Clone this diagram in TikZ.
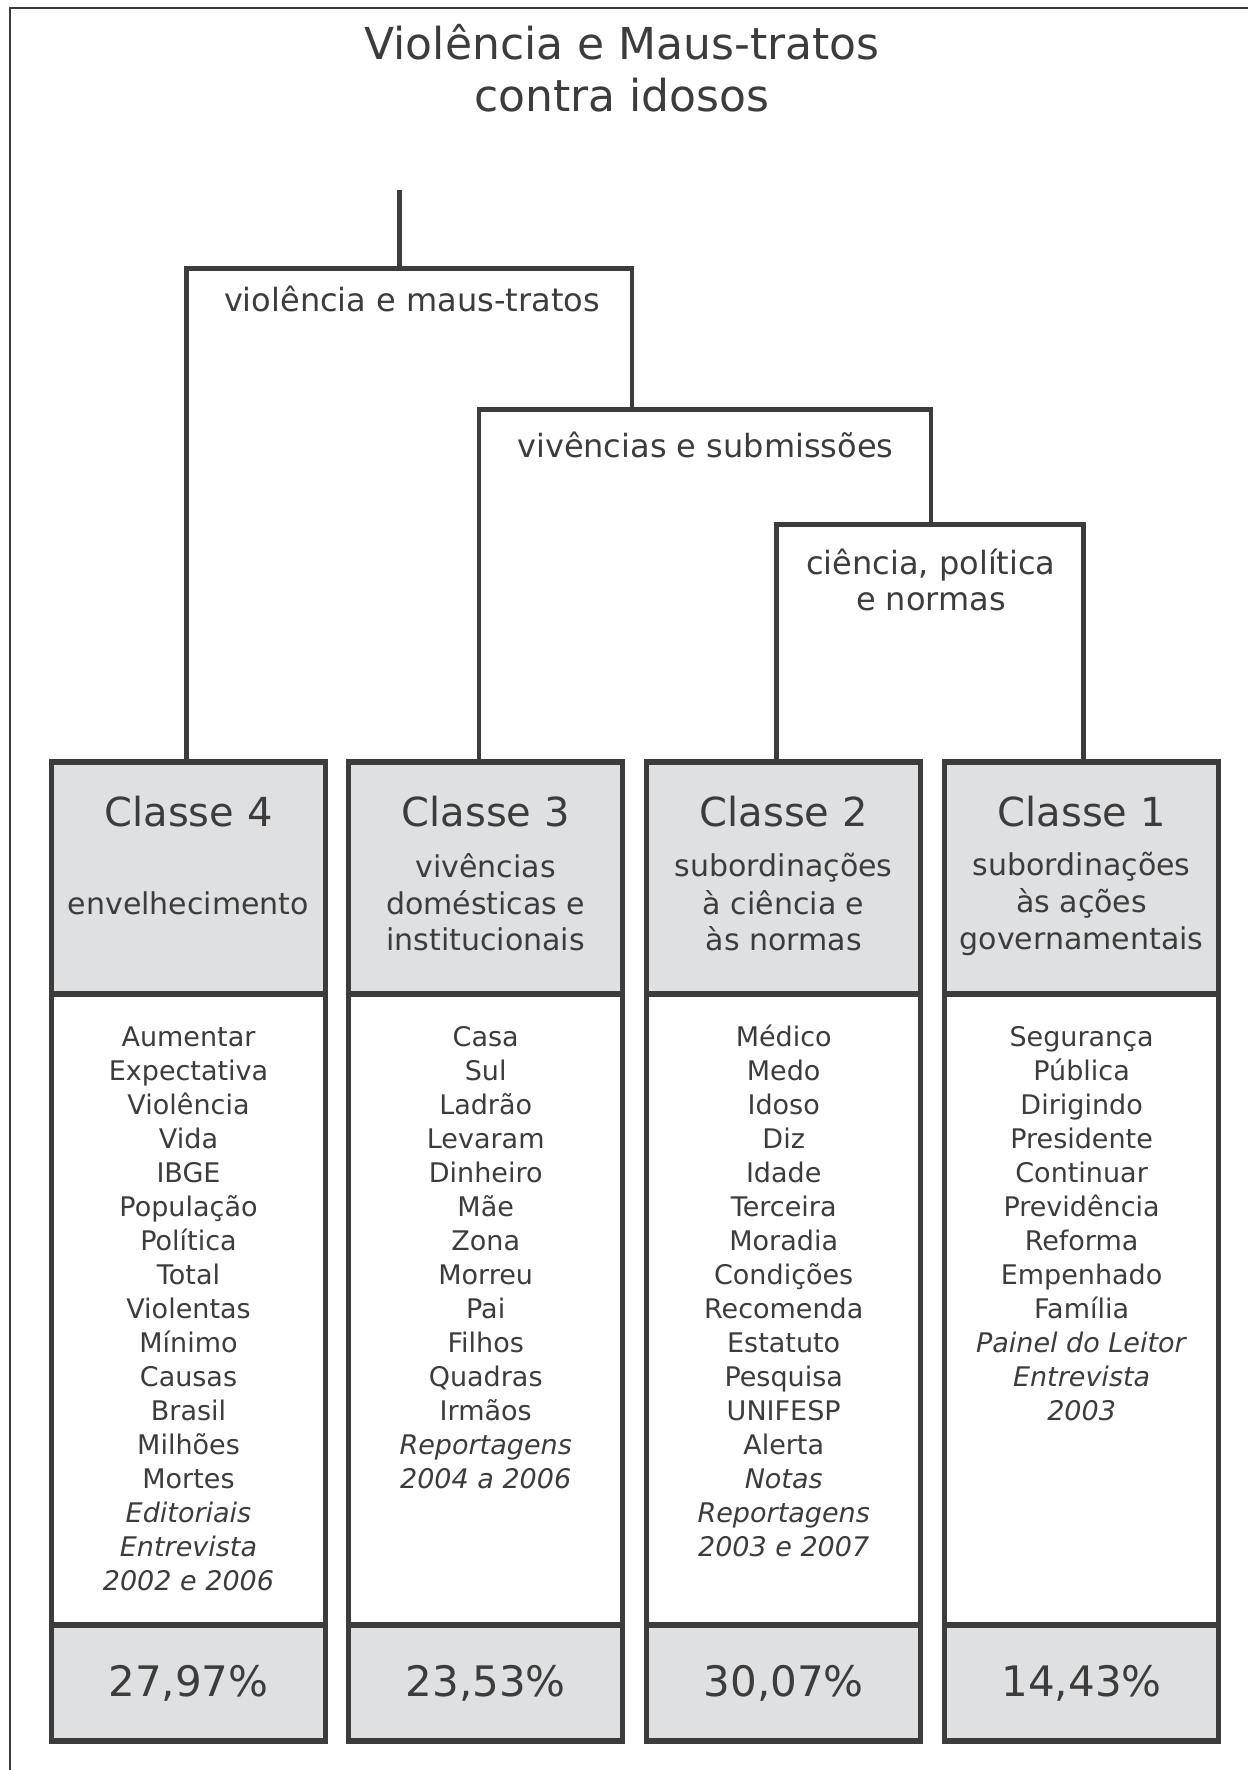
\documentclass[tikz,border=0pt]{standalone}
\usepackage{fontspec}
\setmainfont{DejaVu Sans}
\definecolor{boxgray}{HTML}{DFE0E2}
\definecolor{ink}{HTML}{3C3C3C}

\tikzset{
	classbox/.style={draw=ink, line width=2.6pt, minimum width=137pt, inner sep=0pt, outer sep=0pt},
	headbox/.style={classbox, fill=boxgray, minimum height=116pt},
	bodybox/.style={classbox, fill=white, minimum height=315.5pt},
	pctbox/.style={classbox, fill=boxgray, minimum height=58pt, text=ink, font=\fontsize{21}{25}\selectfont},
	classe/.style={anchor=base, text=ink, font=\fontsize{20}{24}\selectfont},
	subt/.style={anchor=base, text=ink, font=\fontsize{15}{18}\selectfont},
	word/.style={anchor=base, text=ink, font=\fontsize{13.5}{17}\selectfont},
	branch/.style={anchor=base, text=ink, font=\fontsize{16}{19}\selectfont},
	heading/.style={anchor=base, text=ink, font=\fontsize{22}{26}\selectfont},
	link/.style={draw=ink, line width=2.4pt},
}

\begin{document}
\begin{tikzpicture}[x=0.5pt, y=-0.5pt]
	\useasboundingbox (0,0) rectangle (1248,1770);
	\draw[ink, line width=1.1pt] (1248,8.3) -- (10.3,8.3) -- (10.3,1770);

	\node[heading] (tit1) at (622,60)	{Violência e Maus-tratos};
	\node[heading] (tit2) at (622,111.7)	{contra idosos};

	% class boxes
	\node[headbox] (h4) at (188.5,878)	{};
	\node[headbox] (h3) at (485.7,878)	{};
	\node[headbox] (h2) at (783.7,878)	{};
	\node[headbox] (h1) at (1081.6,878)	{};

	\node[bodybox] (b4) at (188.5,1309.5)	{};
	\node[bodybox] (b3) at (485.7,1309.5)	{};
	\node[bodybox] (b2) at (783.7,1309.5)	{};
	\node[bodybox] (b1) at (1081.6,1309.5)	{};

	\node[pctbox] (p4) at (188.5,1683)	{27,97\%};
	\node[pctbox] (p3) at (485.7,1683)	{23,53\%};
	\node[pctbox] (p2) at (783.7,1683)	{30,07\%};
	\node[pctbox] (p1) at (1081.6,1683)	{14,43\%};

	% headings
	\node[classe] (c4) at (188.5,826)	{Classe 4};
	\node[classe] (c3) at (485.7,826)	{Classe 3};
	\node[classe] (c2) at (783.7,826)	{Classe 2};
	\node[classe] (c1) at (1081.6,826)	{Classe 1};

	\node[subt] (s4) at (188.5,914)	{envelhecimento};
	\node[subt] (s3a) at (485.7,877)	{vivências};
	\node[subt] (s3b) at (485.7,914)	{domésticas e};
	\node[subt] (s3c) at (485.7,950.7)	{institucionais};
	\node[subt] (s2a) at (783.7,876.7)	{subordinações};
	\node[subt] (s2b) at (783.7,914)	{à ciência e};
	\node[subt] (s2c) at (783.7,950.7)	{às normas};
	\node[subt] (s1a) at (1081.6,875)	{subordinações};
	\node[subt] (s1b) at (1081.6,912)	{às ações};
	\node[subt] (s1c) at (1081.6,949)	{governamentais};

	% word lists
	\foreach \w [count=\i] in {Aumentar, Expectativa, Violência, Vida, IBGE, População, Política, Total, Violentas, Mínimo, Causas, Brasil, Milhões, Mortes, \textit{Editoriais}, \textit{Entrevista}, \textit{2002 e 2006}}
		\node[word] (w4-\i) at (188.5,{1046+34*(\i-1)}) {\w};
	\foreach \w [count=\i] in {Casa, Sul, Ladrão, Levaram, Dinheiro, Mãe, Zona, Morreu, Pai, Filhos, Quadras, Irmãos, \textit{Reportagens}, \textit{2004 a 2006}}
		\node[word] (w3-\i) at (485.7,{1046+34*(\i-1)}) {\w};
	\foreach \w [count=\i] in {Médico, Medo, Idoso, Diz, Idade, Terceira, Moradia, Condições, Recomenda, Estatuto, Pesquisa, UNIFESP, Alerta, \textit{Notas}, \textit{Reportagens}, \textit{2003 e 2007}}
		\node[word] (w2-\i) at (783.7,{1046+34*(\i-1)}) {\w};
	\foreach \w [count=\i] in {Segurança, Pública, Dirigindo, Presidente, Continuar, Previdência, Reforma, Empenhado, Família, \textit{Painel do Leitor}, \textit{Entrevista}, \textit{2003}}
		\node[word] (w1-\i) at (1081.6,{1046+34*(\i-1)}) {\w};

	% tree
	\coordinate (root) at (399.5,189.6);
	\coordinate (a1) at (186.2,268.6);
	\coordinate (a2) at (631.9,268.6);
	\coordinate (b1) at (479,409.6);
	\coordinate (b2) at (930.9,409.6);
	\coordinate (d1) at (776.5,524.7);
	\coordinate (d2) at (1083.5,524.7);

	\path[link] (root) -- (root |- a1);
	\path[link] (h4.north -| a1) -- (a1) -- (a2) -- (a2 |- b1);
	\path[link] (h3.north -| b1) -- (b1) -- (b2) -- (b2 |- d1);
	\path[link] (h2.north -| d1) -- (d1) -- (d2) -- (h1.north -| d2);

	\node[branch] (l1) at (411.9,311.7)	{violência e maus-tratos};
	\node[branch] (l2) at (705.3,458)	{vivências e submissões};
	\node[branch] (l3a) at (930.9,574)	{ciência, política};
	\node[branch] (l3b) at (930.9,610)	{e normas};
\end{tikzpicture}
\end{document}
